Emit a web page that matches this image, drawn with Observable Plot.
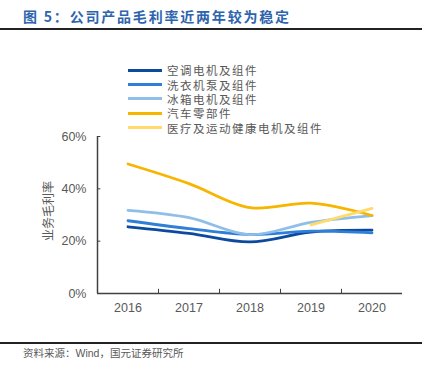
<!DOCTYPE html>
<html>
<head>
<meta charset="utf-8">
<script src="https://cdn.jsdelivr.net/npm/d3@7"></script>
<script src="https://cdn.jsdelivr.net/npm/@observablehq/plot@0.6"></script>
<style>
  html, body { margin: 0; padding: 0; background: #fff; }
  body { width: 431px; height: 381px; position: relative; overflow: hidden; font-family: "Noto Sans CJK SC", sans-serif; }
  #title { position: absolute; left: 23px; top: 6px; font-size: 14px; font-weight: bold; color: #2E64AE; letter-spacing: 1.8px; white-space: nowrap; line-height: 20px; }
  .rule { position: absolute; left: 0; width: 422px; height: 2px; background: #222; }
  #legend { position: absolute; left: 128px; top: 63px; }
  .li { height: 14.4px; line-height: 14px; display: flex; align-items: center; font-size: 11.5px; color: #595959; white-space: nowrap; letter-spacing: 1.5px; overflow: visible; }
  .li span { display: block; line-height: 14px; height: 14px; }
  .sw { width: 34px; height: 3px; margin-right: 5px; }
  #chart { position: absolute; left: 0; top: 40px; }
  #source { position: absolute; left: 23px; top: 346px; font-size: 10.5px; color: #595959; white-space: nowrap; line-height: 14px; }
  #source .w { font-family: "Liberation Sans", Arial, sans-serif; }
</style>
</head>
<body>
<div id="title">图 5：公司产品毛利率近两年较为稳定</div>
<div class="rule" style="top:28px"></div>
<div id="legend"></div>
<div id="chart"></div>
<div class="rule" style="top:342px; height:1.5px"></div>
<div id="source">资料来源：<span class="w">Wind</span>，国元证券研究所</div>
<script>
const years = [2016, 2017, 2018, 2019, 2020];
const seriesNames = ["空调电机及组件", "洗衣机泵及组件", "冰箱电机及组件", "汽车零部件", "医疗及运动健康电机及组件"];
const seriesColors = ["#0C4A9E", "#2F7ED8", "#8FBFE8", "#F7B500", "#FFDB6E"];
const acMotor   = [0.255, 0.230, 0.197, 0.235, 0.242];
const washPump  = [0.278, 0.248, 0.225, 0.238, 0.232];
const fridge    = [0.318, 0.290, 0.225, 0.272, 0.298];
const autoParts = [0.495, 0.420, 0.328, 0.345, 0.298];
const medical   = [null, null, null, 0.262, 0.325];
const yTicks = [0, 0.2, 0.4, 0.6];
const yTitle = "业务毛利率";

const allSeries = [acMotor, washPump, fridge, autoParts, medical];
const rows = [];
allSeries.forEach((vals, i) => {
  years.forEach((yr, j) => {
    if (vals[j] != null) rows.push({series: seriesNames[i], year: yr, value: vals[j]});
  });
});

// legend
const lg = document.getElementById("legend");
seriesNames.forEach((n, i) => {
  const d = document.createElement("div");
  d.className = "li";
  d.innerHTML = `<div class="sw" style="background:${seriesColors[i]}"></div><span>${n}</span>`;
  lg.appendChild(d);
});

const bounds = years.slice(0, -1).map(y => y + 0.5);
const x0 = years[0] - 0.5, x1 = years[years.length - 1] + 0.5;
const axisColor = "#404040";
const textColor = "#595959";

const chart = Plot.plot({
  width: 431,
  height: 290,
  marginLeft: 97,
  marginRight: 29,
  marginTop: 96,
  marginBottom: 37,
  style: {fontFamily: "'Liberation Sans', Arial, sans-serif", fontSize: "12.5px", color: textColor, background: "transparent"},
  x: {domain: [x0, x1], axis: null},
  y: {domain: [0, 0.6], axis: null},
  color: {domain: seriesNames, range: seriesColors},
  marks: [
    Plot.axisY({ticks: yTicks, tickFormat: d => Math.round(d * 100) + "%", tickSize: 0, tickPadding: 11, label: null, fill: textColor}),
    Plot.axisX({ticks: years, tickFormat: d => String(d), tickSize: 0, tickPadding: 10, label: null, fill: textColor}),
    Plot.ruleY(yTicks.slice(1), {x1: x0, x2: x0 + 0.055, stroke: axisColor, strokeWidth: 1}),
    Plot.ruleX(bounds, {y1: 0, y2: 0.016, stroke: axisColor, strokeWidth: 1}),
    Plot.lineY(rows, {x: "year", y: "value", z: "series", stroke: "series", strokeWidth: 2.8, curve: "catmull-rom"}),
    Plot.ruleX([x0], {y1: 0, y2: 0.6, stroke: axisColor, strokeWidth: 1.5}),
    Plot.ruleY([0], {x1: x0, x2: x1, stroke: axisColor, strokeWidth: 1.5}),
    Plot.text([yTitle], {frameAnchor: "left", textAnchor: "middle", dx: -48, dy: -4, rotate: -90, fill: textColor, fontSize: 12, fontFamily: "Noto Sans CJK SC", style: "letter-spacing: 1px"})
  ]
});
document.getElementById("chart").appendChild(chart);
</script>
</body>
</html>
